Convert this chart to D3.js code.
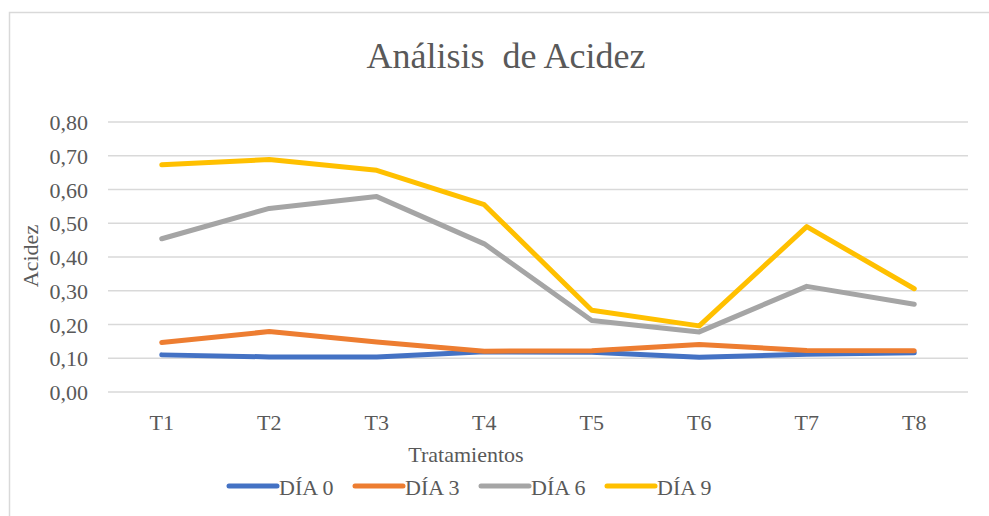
<!DOCTYPE html>
<html>
<head>
<meta charset="utf-8">
<script src="https://cdn.jsdelivr.net/npm/d3@7"></script>
<style>
  body { margin: 0; background: #fff; }
</style>
</head>
<body>
<div id="chart"></div>
<script>
// data
var categories = ["T1", "T2", "T3", "T4", "T5", "T6", "T7", "T8"];
var dia0 = [0.110, 0.104, 0.104, 0.119, 0.118, 0.103, 0.112, 0.116];
var dia3 = [0.147, 0.179, 0.148, 0.121, 0.122, 0.141, 0.123, 0.122];
var dia6 = [0.454, 0.544, 0.579, 0.439, 0.212, 0.178, 0.313, 0.260];
var dia9 = [0.673, 0.689, 0.657, 0.555, 0.242, 0.196, 0.490, 0.306];
var seriesNames = ["DÍA 0", "DÍA 3", "DÍA 6", "DÍA 9"];
var yTicks = [0, 0.1, 0.2, 0.3, 0.4, 0.5, 0.6, 0.7, 0.8];

(function() {
  var W = 989, H = 516;
  var FONT = "'Liberation Serif', 'Times New Roman', serif";
  var colors = ["#4472C4", "#ED7D31", "#A5A5A5", "#FFC000"];
  var allSeries = [dia0, dia3, dia6, dia9];

  var svg = d3.select("#chart").append("svg")
    .attr("width", W)
    .attr("height", H)
    .attr("font-family", FONT);

  // chart frame
  svg.append("rect")
    .attr("x", 9.5).attr("y", 12.5)
    .attr("width", W).attr("height", H)
    .attr("fill", "none")
    .attr("stroke", "#d9d9d9")
    .attr("stroke-width", 1.5);

  var x = d3.scaleBand().domain(categories).range([108, 968]);
  var y = d3.scaleLinear().domain([0, 0.8]).range([392, 122]);

  // gridlines
  svg.append("g").selectAll("line")
    .data(yTicks).enter().append("line")
    .attr("x1", 108).attr("x2", 968)
    .attr("y1", function(d) { return y(d); })
    .attr("y2", function(d) { return y(d); })
    .attr("stroke", "#d9d9d9")
    .attr("stroke-width", 1.5);

  // y axis
  var yAxis = svg.append("g")
    .attr("transform", "translate(98,0)")
    .call(d3.axisLeft(y).tickValues(yTicks).tickSize(0)
      .tickFormat(function(d) { return d3.format(".2f")(d).replace(".", ","); }));
  yAxis.attr("font-family", FONT).attr("font-size", 22);
  yAxis.select(".domain").remove();
  yAxis.selectAll("text")
    .attr("x", -10).attr("dy", "0.35em")
    .attr("fill", "#595959");

  // x axis
  var xAxis = svg.append("g")
    .attr("transform", "translate(0,392)")
    .call(d3.axisBottom(x).tickSize(0));
  xAxis.attr("font-family", FONT).attr("font-size", 22);
  xAxis.select(".domain").remove();
  xAxis.selectAll("text")
    .attr("y", 38).attr("dy", 0)
    .attr("fill", "#595959");

  // lines
  var line = d3.line()
    .x(function(d, i) { return x(categories[i]) + x.bandwidth() / 2; })
    .y(function(d) { return y(d); });

  allSeries.forEach(function(s, i) {
    svg.append("path")
      .datum(s)
      .attr("d", line)
      .attr("fill", "none")
      .attr("stroke", colors[i])
      .attr("stroke-width", 5)
      .attr("stroke-linecap", "round")
      .attr("stroke-linejoin", "round");
  });

  // titles
  svg.append("text")
    .attr("x", 506).attr("y", 68)
    .attr("text-anchor", "middle")
    .attr("font-size", 36)
    .attr("fill", "#595959")
    .style("white-space", "pre")
    .text("Análisis  de Acidez");

  svg.append("text")
    .attr("x", 466).attr("y", 462)
    .attr("text-anchor", "middle")
    .attr("font-size", 22)
    .attr("fill", "#595959")
    .text("Tratamientos");

  svg.append("text")
    .attr("transform", "translate(38,256) rotate(-90)")
    .attr("text-anchor", "middle")
    .attr("font-size", 22)
    .attr("fill", "#595959")
    .text("Acidez");

  // legend
  var legendX = [229, 355, 481, 607];
  var legend = svg.append("g").selectAll("g")
    .data(seriesNames).enter().append("g")
    .attr("transform", function(d, i) { return "translate(" + legendX[i] + ",486)"; });
  legend.append("line")
    .attr("x1", 0).attr("x2", 48)
    .attr("stroke", function(d, i) { return colors[i]; })
    .attr("stroke-width", 5)
    .attr("stroke-linecap", "round");
  legend.append("text")
    .attr("x", 50).attr("y", 9)
    .attr("font-size", 22)
    .attr("fill", "#595959")
    .text(function(d) { return d; });
})();
</script>
</body>
</html>
